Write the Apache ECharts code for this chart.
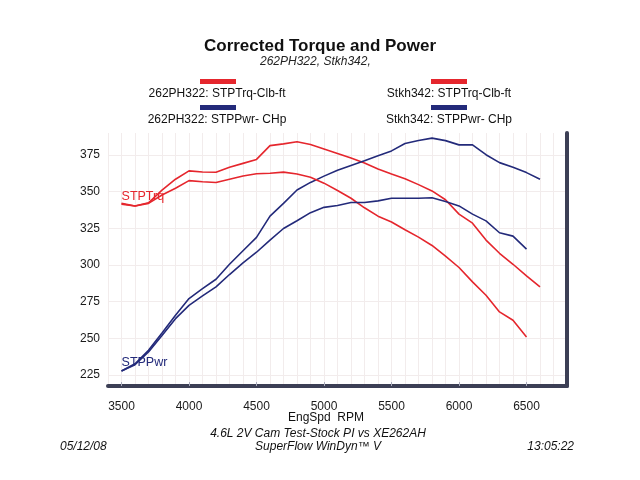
<!DOCTYPE html>
<html><head><meta charset="utf-8">
<script src="https://cdn.jsdelivr.net/npm/echarts@6/dist/echarts.min.js"></script>
<style>html,body{margin:0;padding:0;background:#fff}#c{width:640px;height:480px}</style>
</head><body><div id="c"></div>
<script>
// RPM points
const rpmLong = [3500,3600,3700,3800,3900,4000,4100,4200,4300,4400,4500,4600,4700,4800,4900,5000,5100,5200,5300,5400,5500,5600,5700,5800,5900,6000,6100,6200,6300,6400,6500,6600];
const rpmShort = [3500,3600,3700,3800,3900,4000,4100,4200,4300,4400,4500,4600,4700,4800,4900,5000,5100,5200,5300,5400,5500,5600,5700,5800,5900,6000,6100,6200,6300,6400,6500];
// 262PH322
const trqA = [342.0,340.2,342.4,351.0,358.5,364.2,363.4,363.2,366.6,369.3,372.0,381.4,382.6,384.0,382.1,379.1,376.1,373.0,369.5,365.5,362.0,358.8,354.8,350.5,344.5,334.7,328.5,317.0,308.0,300.5,292.6,285.1];
const pwrA = [227.7,232.7,241.8,253.6,265.7,277.1,283.9,290.3,300.5,309.7,318.8,333.3,342.0,351.1,356.3,360.6,364.6,367.9,371.0,374.5,377.8,382.8,384.9,386.5,384.8,381.9,381.9,375.2,369.8,366.7,363.0,358.5];
// Stkh342
const trqB = [341.5,340.2,342.0,347.7,352.3,357.5,356.8,356.3,358.5,360.7,362.2,362.6,363.3,362.0,359.8,355.8,350.8,345.5,339.0,333.3,329.3,324.0,319.0,313.3,306.0,298.3,288.5,279.4,268.0,262.3,250.9];
const pwrB = [227.7,232.0,240.7,252.0,263.4,272.5,278.9,285.1,293.5,301.5,308.7,316.9,324.9,330.2,335.7,339.3,340.6,342.6,342.6,343.7,345.5,345.5,345.5,345.9,343.3,340.3,334.7,330.1,322.0,319.7,310.8];
const xTicks = [3500,4000,4500,5000,5500,6000,6500];
const yTicks = [225,250,275,300,325,350,375];
const seriesNames = ['262PH322: STPTrq-Clb-ft','262PH322: STPPwr- CHp','Stkh342: STPTrq-Clb-ft','Stkh342: STPPwr- CHp'];

const RED = '#e5262d', BLUE = '#232a7a', BAR = '#3c3f55', GRID = '#f2ecec';
const FONT = 'Liberation Sans, Arial, sans-serif';
const pairs = (xs, ys) => xs.map((x, i) => [x, ys[i]]);

const chart = echarts.init(document.getElementById('c'), null, {renderer: 'canvas'});
function lineSeries(name, xs, ys, color, extra) {
  return Object.assign({
    type: 'line', name: name, data: pairs(xs, ys), symbol: 'none', z: 3,
    lineStyle: {color: color, width: 1.6}, itemStyle: {color: color}, animation: false
  }, extra || {});
}
const option = {
  animation: false,
  backgroundColor: '#ffffff',
  title: [
    {text: 'Corrected Torque and Power', left: 'center', top: 38, padding: 0,
     textStyle: {fontFamily: FONT, fontSize: 17, fontWeight: 'bold', color: '#111'}},
    {text: '262PH322, Stkh342,', left: 260, top: 56, padding: 0,
     textStyle: {fontFamily: FONT, fontSize: 12, fontStyle: 'italic', fontWeight: 'normal', color: '#222'}}
  ],
  grid: {left: 108, right: 73, top: 133, bottom: 94, containLabel: false},
  xAxis: [
    {type: 'value', min: 3400, max: 6800,
     axisLine: {show: true, lineStyle: {color: BAR, width: 4}},
     axisTick: {show: true, inside: true, length: 4, customValues: xTicks, lineStyle: {color: '#a8aabb', width: 1}},
     axisLabel: {customValues: xTicks, margin: 15, fontFamily: FONT, fontSize: 12, color: '#1a1a1a',
       formatter: v => String(v)},
     splitLine: {show: false}, z: 5},
    {type: 'value', min: 3400, max: 6800, interval: 100, position: 'bottom',
     axisLine: {show: false}, axisTick: {show: false}, axisLabel: {show: false},
     splitLine: {show: true, lineStyle: {color: GRID, width: 1}}}
  ],
  yAxis: [
    {type: 'value', min: 217.5, max: 390, position: 'left',
     axisLine: {show: false}, axisTick: {show: false, customValues: yTicks},
     axisLabel: {customValues: yTicks, margin: 8, fontFamily: FONT, fontSize: 12, color: '#1a1a1a'},
     splitLine: {show: true, lineStyle: {color: GRID, width: 1}}},
    {type: 'value', min: 217.5, max: 390, position: 'right',
     axisLine: {show: true, onZero: false, lineStyle: {color: BAR, width: 4}},
     axisTick: {show: false}, axisLabel: {show: false}, splitLine: {show: false}, z: 5}
  ],
  series: [
    lineSeries(seriesNames[0], rpmLong, trqA, RED, {
      markPoint: {animation: false, data: [{coord: [rpmLong[0], trqA[0]], symbol: 'circle', symbolSize: 0.1,
        itemStyle: {color: 'rgba(0,0,0,0)'},
        label: {show: true, formatter: 'STPTrq', position: 'right', distance: 0, offset: [0, -7],
          color: RED, fontFamily: FONT, fontSize: 12.5}}]}
    }),
    lineSeries(seriesNames[1], rpmLong, pwrA, BLUE, {
      markPoint: {animation: false, data: [{coord: [rpmLong[0], pwrA[0]], symbol: 'circle', symbolSize: 0.1,
        itemStyle: {color: 'rgba(0,0,0,0)'},
        label: {show: true, formatter: 'STPPwr', position: 'right', distance: 0, offset: [0, -8],
          color: BLUE, fontFamily: FONT, fontSize: 12.5}}]}
    }),
    lineSeries(seriesNames[2], rpmShort, trqB, RED),
    lineSeries(seriesNames[3], rpmShort, pwrB, BLUE)
  ],
  graphic: [
    {type: 'rect', left: 200, top: 79, shape: {width: 36, height: 5}, style: {fill: RED}},
    {type: 'text', style: {text: seriesNames[0], x: 217, y: 94, align: 'center', verticalAlign: 'middle', font: '12px ' + FONT, fill: '#111'}},
    {type: 'rect', left: 200, top: 105, shape: {width: 36, height: 5}, style: {fill: BLUE}},
    {type: 'text', style: {text: seriesNames[1], x: 217, y: 120, align: 'center', verticalAlign: 'middle', font: '12px ' + FONT, fill: '#111'}},
    {type: 'rect', left: 431, top: 79, shape: {width: 36, height: 5}, style: {fill: RED}},
    {type: 'text', style: {text: seriesNames[2], x: 449, y: 94, align: 'center', verticalAlign: 'middle', font: '12px ' + FONT, fill: '#111'}},
    {type: 'rect', left: 431, top: 105, shape: {width: 36, height: 5}, style: {fill: BLUE}},
    {type: 'text', style: {text: seriesNames[3], x: 449, y: 120, align: 'center', verticalAlign: 'middle', font: '12px ' + FONT, fill: '#111'}},
    {type: 'text', style: {text: 'EngSpd  RPM', x: 326, y: 418, align: 'center', verticalAlign: 'middle', font: '12px ' + FONT, fill: '#111'}},
    {type: 'text', style: {text: '4.6L 2V Cam Test-Stock PI vs XE262AH', x: 318, y: 434, align: 'center', verticalAlign: 'middle', font: 'italic 12px ' + FONT, fill: '#111'}},
    {type: 'text', style: {text: 'SuperFlow WinDyn\u2122 V', x: 318, y: 447, align: 'center', verticalAlign: 'middle', font: 'italic 12px ' + FONT, fill: '#111'}},
    {type: 'text', style: {text: '05/12/08', x: 60, y: 447, align: 'left', verticalAlign: 'middle', font: 'italic 12px ' + FONT, fill: '#111'}},
    {type: 'text', style: {text: '13:05:22', x: 574, y: 447, align: 'right', verticalAlign: 'middle', font: 'italic 12px ' + FONT, fill: '#111'}}
  ]
};
chart.setOption(option);
</script>
</body></html>
